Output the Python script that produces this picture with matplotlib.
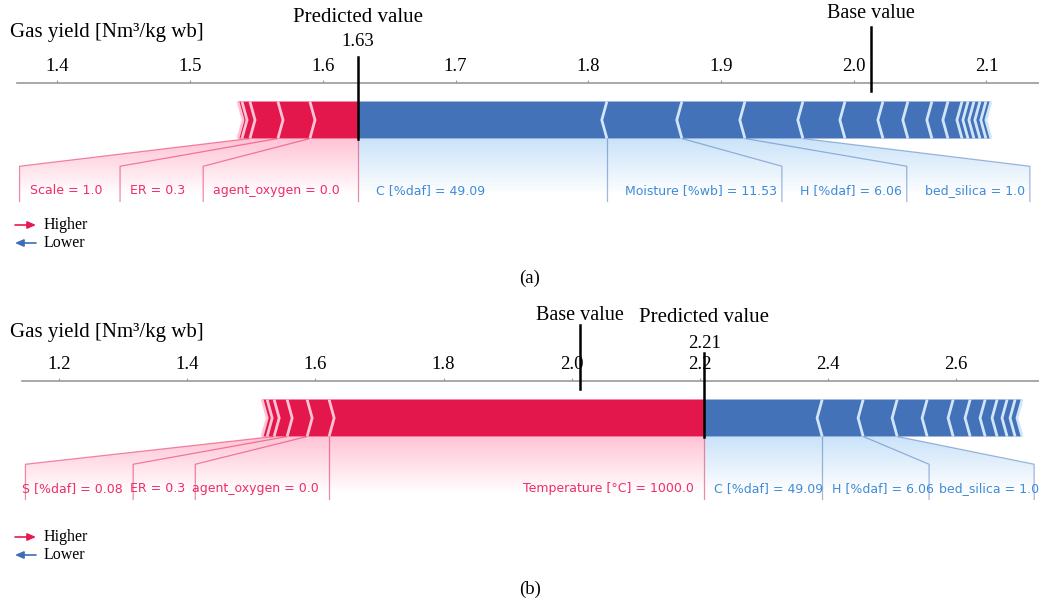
import numpy as np
import matplotlib
matplotlib.use('Agg')
import matplotlib.pyplot as plt
from matplotlib.patches import Polygon, PathPatch, FancyArrowPatch
from matplotlib.path import Path
from matplotlib import transforms

W, H = 1039, 606
SERIF = 'Liberation Serif'
SANS = 'DejaVu Sans'

base_value = 2.013

# panel (a): SHAP contributions, largest first (pushing higher / pushing lower)
a_pos_vals = [0.0362, 0.0241, 0.0211, 0.0060, 0.0030]
a_pos_names = ['agent_oxygen = 0.0', 'ER = 0.3', 'Scale = 1.0']
a_neg_vals = [0.1876, 0.0565, 0.0475, 0.0437, 0.0317, 0.0286, 0.0188, 0.0181,
              0.0121, 0.0106, 0.0045, 0.0045, 0.0045, 0.0045, 0.0038]
a_neg_names = ['C [%daf] = 49.09', 'Moisture [%wb] = 11.53', 'H [%daf] = 6.06',
               'bed_silica = 1.0']
a_ticks = [1.4, 1.5, 1.6, 1.7, 1.8, 1.9, 2.0, 2.1]

# panel (b)
b_pos_vals = [0.5857, 0.0343, 0.0312, 0.0203, 0.0109, 0.0078]
b_pos_names = ['Temperature [°C] = 1000.0', 'agent_oxygen = 0.0', 'ER = 0.3',
               'S [%daf] = 0.08']
b_neg_vals = [0.1842, 0.0640, 0.0531, 0.0468, 0.0406, 0.0265, 0.0234, 0.0187,
              0.0156, 0.0125, 0.0109]
b_neg_names = ['C [%daf] = 49.09', 'H [%daf] = 6.06', 'bed_silica = 1.0']
b_ticks = [1.2, 1.4, 1.6, 1.8, 2.0, 2.2, 2.4, 2.6]

RED, RED_SEP, RED_TXT = '#E3174B', '#FFC3D5', '#EE2D66'
BLUE, BLUE_SEP, BLUE_TXT = '#4472B8', '#D1E6FA', '#3F8BD8'
SHADE = {'pos': ((1.0, 0.05, 0.34), 0.25), 'neg': ((0.12, 0.53, 0.90), 0.24)}
PX = 370  # pixels per y unit


def fx(x):
    return x / W


def fy(y):
    return 1 - y / H


fig = plt.figure(figsize=(W / 100, H / 100), dpi=100)
renderer = fig.canvas.get_renderer()


def draw_bars(ax, out_value, vals, kind, sep_w, bar_h=0.1):
    pre = out_value
    for i, v in enumerate(vals):
        if kind == 'pos':
            left, right = pre - v, pre
            pre = left
            ind, sep_x, c, cl = sep_w, left, RED, RED_SEP
        else:
            left, right = pre, pre + v
            pre = right
            ind, sep_x, c, cl = -sep_w, right, BLUE, BLUE_SEP
        if i == 0:
            if kind == 'pos':
                pts = [[left, 0], [right, 0], [right, bar_h], [left, bar_h], [left + ind, bar_h / 2]]
            else:
                pts = [[right, 0], [left, 0], [left, bar_h], [right, bar_h], [right + ind, bar_h / 2]]
        else:
            pts = [[left, 0], [right, 0], [right + ind * 0.9, bar_h / 2], [right, bar_h],
                   [left, bar_h], [left + ind * 0.9, bar_h / 2]]
        ax.add_patch(Polygon(pts, closed=True, facecolor=c, lw=0, zorder=3))
        ax.add_patch(Polygon([[sep_x, 0], [sep_x + ind, bar_h / 2], [sep_x, bar_h]],
                             closed=False, fill=False, edgecolor=cl, lw=2, zorder=4))


def draw_labels(ax, out_value, vals, names, kind, off, gap):
    if kind == 'pos':
        sign, ha, col, tcol = 1, 'right', RED, RED_TXT
        ax.plot([out_value, out_value], [0, -0.17], color=col, lw=0.9, alpha=0.5, clip_on=False)
    else:
        sign, ha, col, tcol = -1, 'left', BLUE, BLUE_TXT
    bounds = out_value - sign * np.cumsum(vals)
    start = pre = box_end = out_value
    inv = ax.transData.inverted()
    for val, name in zip(bounds, names):
        t = ax.text(start - sign * off, -0.15, name, ha=ha, va='baseline',
                    family=SANS, size=9, color=tcol)
        bb = t.get_window_extent(renderer)
        ex = inv.transform([[bb.x0, 0], [bb.x1, 0]])[:, 0]
        edge = (ex[0] if kind == 'pos' else ex[1]) - sign * gap
        if sign * edge > sign * val:
            ax.plot([val, val], [0, -0.17], color=col, lw=0.9, alpha=0.5, clip_on=False)
            start = box_end = val
        else:
            ax.plot([val, edge, edge], [0, -0.075, -0.17], color=col, lw=0.9, alpha=0.5, clip_on=False)
            start = box_end = edge
        pre = val
    path = Path([[out_value, 0], [pre, 0], [box_end, -0.075], [box_end, -0.2],
                 [out_value, -0.2], [out_value, 0]])
    patch = PathPatch(path, facecolor='none', edgecolor='none')
    ax.add_patch(patch)
    rgb, a0 = SHADE[kind]
    ys = np.linspace(0, 0.2, 200)
    img = np.zeros((200, 2, 4))
    img[..., :3] = rgb
    img[..., 3] = (a0 * np.clip(1 - ys / 0.155, 0, 1))[:, None]
    x0, x1 = sorted([out_value, box_end])
    im = ax.imshow(img, extent=(x0, x1, -0.2, 0), origin='upper', aspect='auto',
                   interpolation='bilinear', zorder=1)
    im.set_clip_path(patch)


def force_panel(pos_vals, pos_names, neg_vals, neg_names, ticks, xlim, lay):
    left, top = lay['left'], lay['top']
    ax = fig.add_axes([fx(left), fy(top + 185), (W - left) / W, 185 / H])
    ax.set_xlim(xlim)
    ax.set_ylim(-0.35, 0.15)
    ax.patch.set_alpha(0)
    ppu = (W - left) / (xlim[1] - xlim[0])
    out_value = base_value + sum(pos_vals) - sum(neg_vals)
    sep_w = (xlim[1] - xlim[0]) / 200

    draw_bars(ax, out_value, neg_vals, 'neg', sep_w)
    draw_bars(ax, out_value, pos_vals, 'pos', sep_w)
    draw_labels(ax, out_value, neg_vals, neg_names, 'neg', lay['off'] / ppu, lay['gap_neg'] / ppu)
    draw_labels(ax, out_value, pos_vals, pos_names, 'pos', lay['off'] / ppu, lay['gap_pos'] / ppu)

    for k, s in ax.spines.items():
        s.set_visible(k == 'top')
    ax.spines['top'].set_color('#9a9a9a')
    ax.spines['top'].set_linewidth(1.2)
    ax.set_yticks([])
    ax.set_xticks(ticks)
    ax.set_xticklabels([f'{t:.1f}' for t in ticks], family=SERIF, size=13.5)
    ax.tick_params(axis='x', top=True, bottom=False, labeltop=True, labelbottom=False,
                   length=2.5, width=0.8, color='#9a9a9a', pad=3)
    ax.set_xlim(xlim)
    ax.set_ylim(-0.35, 0.15)

    bl = transforms.blended_transform_factory(ax.transData, fig.transFigure)
    bar_bottom = top + 0.15 * PX
    ax.plot([base_value] * 2, [fy(lay['base_line'][0]), fy(lay['base_line'][1])],
            transform=bl, color='black', lw=1.8, clip_on=False, zorder=6)
    ax.text(base_value, fy(lay['base_txt']), 'Base value', transform=bl,
            ha='center', va='center', family=SERIF, size=14.5)
    ax.plot([out_value] * 2, [fy(lay['pred_line']), fy(bar_bottom)],
            transform=bl, color='black', lw=1.8, clip_on=False, zorder=6)
    ax.text(out_value, fy(lay['pred_txt']), 'Predicted value', transform=bl,
            ha='center', va='center', family=SERIF, size=15)
    ax.text(out_value, fy(lay['pred_val']), f'{out_value:.2f}', transform=bl,
            ha='center', va='center', family=SERIF, size=13.5)

    fig.text(fx(10), fy(lay['title']), 'Gas yield [Nm³/kg wb]', ha='left', va='center',
             family=SERIF, size=15)

    for y, c, txt, a, b in [(lay['legend'][0], '#E8194F', 'Higher', 15, 36),
                            (lay['legend'][1], '#3F6DB5', 'Lower', 36, 15)]:
        fig.add_artist(FancyArrowPatch((fx(a), fy(y)), (fx(b), fy(y)), transform=fig.transFigure,
                                       arrowstyle='-|>,head_length=0.5,head_width=0.22',
                                       mutation_scale=10, color=c, lw=1.2,
                                       shrinkA=0, shrinkB=0))
        fig.text(fx(44), fy(y), txt, ha='left', va='center', family=SERIF, size=11.5)

    fig.text(fx(530), fy(lay['cap']), lay['name'], ha='center', va='center',
             family=SERIF, size=13.5)


force_panel(a_pos_vals, a_pos_names, a_neg_vals, a_neg_names, a_ticks, (1.3695, 2.1396),
            dict(left=17, top=83, off=18, gap_pos=10, gap_neg=5, title=33, pred_txt=17,
                 pred_val=42, pred_line=57, base_txt=13, base_line=(27, 91),
                 legend=(225, 243), cap=278, name='(a)'))
force_panel(b_pos_vals, b_pos_names, b_neg_vals, b_neg_names, b_ticks, (1.1418, 2.7296),
            dict(left=22, top=381, off=10, gap_pos=-3, gap_neg=-5, title=333, pred_txt=318,
                 pred_val=343, pred_line=353, base_txt=315, base_line=(325, 389),
                 legend=(537, 555), cap=589, name='(b)'))

fig.savefig('out.png', dpi=100)
